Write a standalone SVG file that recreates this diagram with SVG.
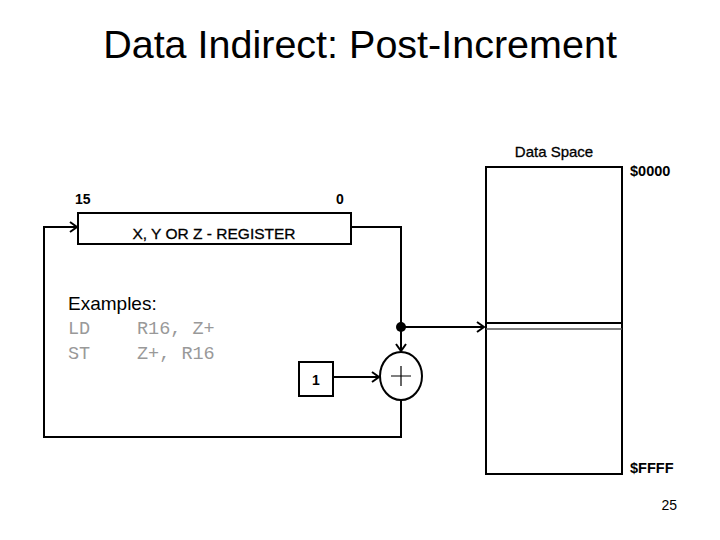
<svg xmlns="http://www.w3.org/2000/svg" width="720" height="540" viewBox="0 0 720 540">
<style>
.ln{fill:none;stroke:#000;stroke-width:2}
.lbl{font-family:"Liberation Sans",Arial,sans-serif;fill:#000}
.code{font-family:"Liberation Mono","Courier New",monospace;font-size:18.5px;fill:#999}
</style>
<defs>
<marker id="arr" markerWidth="12" markerHeight="12" refX="10" refY="6" orient="auto" markerUnits="userSpaceOnUse">
<path d="M3,1 L10,6 L3,11" fill="none" stroke="#000" stroke-width="2"/>
</marker>
</defs>
<rect width="720" height="540" fill="#fff"/>
<text class="lbl" x="360" y="58" font-size="39.5" text-anchor="middle">Data Indirect: Post-Increment</text>

<g id="connectors">
<path class="ln" d="M351,227 H401 V327"/>
<path class="ln" d="M401,327 V351" marker-end="url(#arr)"/>
<path class="ln" d="M401,327 H484" marker-end="url(#arr)"/>
<path class="ln" d="M333,377 H379" marker-end="url(#arr)"/>
<path class="ln" d="M401,400 V437 H44 V227 H77" marker-end="url(#arr)"/>
<circle cx="401" cy="327" r="5" fill="#000"/>
</g>

<g id="register">
<rect x="78" y="213" width="273" height="31" fill="#fff" stroke="#000" stroke-width="2"/>
<text class="lbl" x="214" y="239" font-size="15.5" text-anchor="middle" stroke="#000" stroke-width="0.3">X, Y OR Z - REGISTER</text>
<text class="lbl" x="75" y="204" font-size="14" font-weight="bold">15</text>
<text class="lbl" x="336" y="204" font-size="14" font-weight="bold">0</text>
</g>

<g id="examples">
<text class="lbl" x="68" y="310" font-size="19" fill="#333">Examples:</text>
<text class="code" x="68" y="334">LD</text>
<text class="code" x="137" y="334">R16, Z+</text>
<text class="code" x="68" y="359">ST</text>
<text class="code" x="137" y="359">Z+, R16</text>
</g>

<g id="one">
<rect x="299" y="362" width="34" height="34" fill="#fff" stroke="#000" stroke-width="2"/>
<text class="lbl" x="316" y="385" font-size="14" font-weight="bold" text-anchor="middle">1</text>
</g>

<g id="adder">
<ellipse cx="401" cy="376" rx="21" ry="24" fill="#fff" stroke="#000" stroke-width="2"/>
<path d="M391,376 H411 M401,366 V386" stroke="#000" stroke-width="1.2"/>
</g>

<g id="dataspace">
<rect x="486" y="167" width="136" height="307" fill="#fff" stroke="#000" stroke-width="2"/>
<line x1="486" y1="323" x2="622" y2="323" stroke="#000" stroke-width="2"/>
<line x1="486" y1="329" x2="622" y2="329" stroke="#555" stroke-width="1.5"/>
<text class="lbl" x="554" y="157" font-size="15" text-anchor="middle" stroke="#000" stroke-width="0.3">Data Space</text>
<text class="lbl" x="630" y="176" font-size="14.5" font-weight="bold">$0000</text>
<text class="lbl" x="630" y="473" font-size="14.5" font-weight="bold">$FFFF</text>
</g>

<text class="lbl" x="677" y="510" font-size="14" text-anchor="end" fill="#333">25</text>
</svg>
